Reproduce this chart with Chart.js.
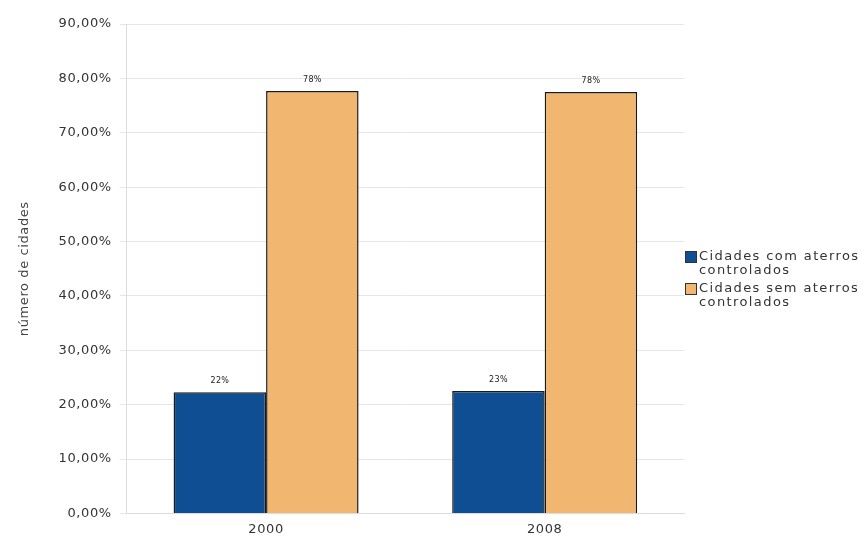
<!DOCTYPE html>
<html>
<head>
<meta charset="utf-8">
<script src="https://cdn.jsdelivr.net/npm/chart.js@4/dist/chart.umd.min.js"></script>
<style>
  html, body { margin: 0; padding: 0; background: #fff; }
  #wrap { position: relative; width: 867px; height: 545px; }
  #legend {
    position: absolute; left: 685px; top: 249px;
    font-family: "DejaVu Sans", sans-serif; font-size: 13px; color: #333;
    line-height: 14px; letter-spacing: 1.4px; white-space: nowrap;
  }
  .item { display: flex; align-items: flex-start; margin-bottom: 4px; }
  .box { width: 10px; height: 10px; border: 1px solid #333; margin: 2px 2px 0 0; flex: none; }
</style>
</head>
<body>
<div id="wrap">
  <canvas id="chart" width="867" height="545"></canvas>
  <div id="legend"></div>
</div>
<script>
// dados
const years = ['2000', '2008'];
const comAterros = [22.3, 22.5];
const semAterros = [77.7, 77.5];
const seriesNames = [
  ['Cidades com aterros', 'controlados'],
  ['Cidades sem aterros', 'controlados']
];
const seriesColors = ['#0f4e93', '#f1b66f'];

const fontFamily = '"DejaVu Sans", sans-serif';

// o texto do original é largo: espaçamento entre letras
const spacing = {
  id: 'spacing',
  beforeLayout(chart) { chart.ctx.letterSpacing = '0.6px'; },
  beforeDraw(chart) { chart.ctx.letterSpacing = '0.6px'; }
};

// rótulos em cima das barras
const barLabels = {
  id: 'barLabels',
  afterDatasetsDraw(chart) {
    const ctx = chart.ctx;
    ctx.save();
    ctx.letterSpacing = '0.3px';
    ctx.font = '8px ' + fontFamily;
    ctx.fillStyle = '#222';
    ctx.textAlign = 'center';
    ctx.textBaseline = 'bottom';
    chart.data.datasets.forEach((ds, i) => {
      chart.getDatasetMeta(i).data.forEach((bar, j) => {
        ctx.fillText(Math.round(ds.data[j]) + '%', bar.x, bar.y - 7);
      });
    });
    ctx.restore();
  }
};

const chart = new Chart(document.getElementById('chart'), {
  type: 'bar',
  data: {
    labels: years,
    datasets: [
      {
        label: seriesNames[0].join(' '),
        data: comAterros,
        backgroundColor: seriesColors[0],
        borderColor: '#1a1a1a',
        borderWidth: 1.5
      },
      {
        label: seriesNames[1].join(' '),
        data: semAterros,
        backgroundColor: seriesColors[1],
        borderColor: '#1a1a1a',
        borderWidth: 1.5
      }
    ]
  },
  options: {
    responsive: false,
    animation: false,
    layout: { padding: { left: 13, right: 183, top: 24, bottom: 0 } },
    categoryPercentage: 0.664,
    barPercentage: 1,
    plugins: {
      legend: { display: false },
      tooltip: { enabled: false }
    },
    scales: {
      x: {
        grid: { display: false, drawTicks: false, tickLength: 0 },
        border: { color: '#dcdcdc' },
        ticks: { color: '#333', font: { size: 13, family: fontFamily }, padding: 8 }
      },
      y: {
        min: 0,
        max: 90,
        ticks: {
          stepSize: 10,
          color: '#333',
          font: { size: 13, family: fontFamily },
          padding: 8,
          callback: v => v.toFixed(2).replace('.', ',') + '%'
        },
        grid: { color: '#e6e6e6', tickLength: 7 },
        border: { color: '#dcdcdc' },
        title: {
          display: true,
          text: 'número de cidades',
          color: '#444',
          font: { size: 13, family: fontFamily },
          padding: { top: 4, bottom: 18 }
        }
      }
    }
  },
  plugins: [spacing, barLabels]
});

// legenda em HTML
const legend = document.getElementById('legend');
seriesNames.forEach((name, i) => {
  const item = document.createElement('div');
  item.className = 'item';
  item.innerHTML = `<span class="box" style="background:${seriesColors[i]}"></span><span>${name.join('<br>')}</span>`;
  legend.appendChild(item);
});
</script>
</body>
</html>
